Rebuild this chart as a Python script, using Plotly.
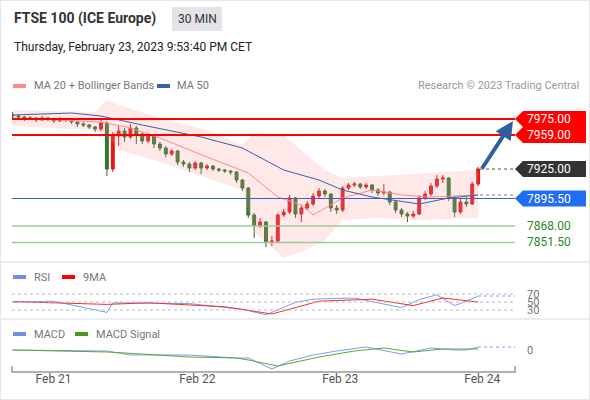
import plotly.graph_objects as go

W, H = 590, 400

# 30 min candles, closes (opens = previous close)
first_open = 7979
closes = [7978, 7977, 7975, 7976, 7974, 7976, 7975, 7973, 7975, 7974,
          7972, 7970, 7969, 7967, 7965, 7971, 7925, 7958, 7963, 7957,
          7966, 7960, 7953, 7958, 7950, 7946, 7940, 7943, 7932, 7930,
          7926, 7931, 7926, 7928, 7925, 7924, 7923, 7922, 7914, 7906,
          7879, 7868, 7872, 7852, 7853, 7879, 7882, 7896, 7880, 7886,
          7890, 7898, 7903, 7900, 7886, 7884, 7906, 7909, 7910, 7907,
          7909, 7904, 7901, 7902, 7892, 7884, 7880, 7878, 7880, 7896,
          7900, 7908, 7915, 7916, 7896, 7882, 7892, 7890, 7910, 7925]
highs = [7982, 7980, 7978, 7978, 7977, 7978, 7977, 7976, 7977, 7976,
         7975, 7973, 7972, 7970, 7968, 7974, 7973, 7962, 7968, 7966,
         7970, 7968, 7962, 7961, 7959, 7952, 7948, 7945, 7944, 7934,
         7932, 7933, 7932, 7930, 7929, 7926, 7925, 7924, 7923, 7915,
         7907, 7881, 7876, 7873, 7858, 7881, 7885, 7899, 7897, 7889,
         7893, 7901, 7906, 7905, 7901, 7889, 7908, 7911, 7912, 7911,
         7911, 7910, 7906, 7910, 7903, 7894, 7886, 7882, 7883, 7899,
         7903, 7911, 7919, 7919, 7917, 7898, 7895, 7897, 7912, 7927]
lows = [7976, 7975, 7973, 7974, 7972, 7973, 7973, 7971, 7972, 7972,
        7970, 7967, 7967, 7965, 7962, 7963, 7918, 7922, 7948, 7952,
        7955, 7950, 7950, 7951, 7946, 7943, 7937, 7938, 7929, 7927,
        7922, 7924, 7920, 7924, 7923, 7922, 7921, 7919, 7911, 7903,
        7876, 7856, 7866, 7847, 7848, 7851, 7877, 7880, 7876, 7872,
        7884, 7888, 7895, 7897, 7882, 7880, 7882, 7904, 7907, 7905,
        7905, 7901, 7898, 7899, 7889, 7881, 7877, 7872, 7876, 7879,
        7894, 7898, 7906, 7911, 7893, 7877, 7880, 7887, 7889, 7908]
opens = [first_open] + closes[:-1]
idx = list(range(len(closes)))

ma20_x = [0, 15, 20, 25, 33, 40, 45, 49, 51, 56, 61, 66, 71, 79]
ma20_y = [7976, 7972, 7966, 7956, 7937, 7921, 7897, 7889, 7879, 7896, 7904, 7899, 7897, 7899]
ma50_x = [0, 10, 15, 22, 32, 39, 46, 52, 56, 61, 69, 74, 79]
ma50_y = [7979, 7981, 7978, 7969, 7957, 7946, 7924, 7914, 7904, 7897, 7890, 7896, 7899]
bb_x = [0, 14, 16, 18, 25, 33, 39, 41, 46, 49, 53, 56, 62, 69, 79]
bb_up = [7984, 7982, 7994, 7989, 7976, 7964, 7949, 7961, 7959, 7944, 7924, 7916, 7918, 7920, 7924]
bb_lo = [7968, 7964, 7959, 7944, 7932, 7916, 7904, 7862, 7836, 7842, 7854, 7874, 7876, 7874, 7876]

rsi_x = [0, 7, 16, 17, 30, 39, 43, 48, 51, 58, 66, 69, 72, 75, 77, 79]
rsi_y = [50, 52, 24, 48, 46, 32, 18, 49, 57, 60, 36, 56, 68, 41, 52, 65]
rsi_ma_x = [0, 16, 23, 36, 44, 52, 61, 68, 73, 79]
rsi_ma_y = [51, 44, 48, 38, 20, 52, 57, 41, 60, 50]

macd_x = [0, 16, 20, 30, 38, 40, 44, 47, 51, 55, 60, 66, 71, 75, 77, 79]
macd_y = [0, -1, -5, -5, -8, -8, -19, -11, -5, -1, 3, -4, 2, 0, 0, 3]
sig_x = [0, 16, 22, 30, 38, 40, 45, 52, 58, 63, 68, 73, 79]
sig_y = [0, -2, -4, -7, -8, -10, -16, -7, -1, 2, -2, 1, 1]

levels = [7975.00, 7959.00, 7925.00, 7895.50, 7868.00, 7851.50]
date_ticks = [6.95, 31.35, 55.6, 79.7]
date_labels = ["Feb 21", "Feb 22", "Feb 23", "Feb 24"]

X0, X1 = 12, 515
xr = [-0.1, (X1 - X0) / 5.9]


def py(p):
    return 1 - p / H


fig = go.Figure()

fig.add_trace(go.Scatter(x=bb_x, y=bb_up, mode="lines", line=dict(width=0), hoverinfo="skip"))
fig.add_trace(go.Scatter(x=bb_x, y=bb_lo, mode="lines", line=dict(width=0), fill="tonexty",
                         fillcolor="rgba(255,150,150,0.22)", hoverinfo="skip"))
fig.add_trace(go.Scatter(x=ma20_x, y=ma20_y, mode="lines", line=dict(color="#ff8a8a", width=1)))
fig.add_trace(go.Scatter(x=ma50_x, y=ma50_y, mode="lines", line=dict(color="#3d5fa8", width=1)))
fig.add_trace(go.Candlestick(x=idx, open=opens, high=highs, low=lows, close=closes,
                             increasing=dict(line=dict(color="#d9141b", width=1), fillcolor="#e8161d"),
                             decreasing=dict(line=dict(color="#2d6b2d", width=1), fillcolor="#2f7d2f"),
                             whiskerwidth=0))

fig.add_trace(go.Scatter(x=rsi_x, y=rsi_y, mode="lines", line=dict(color="#7a9cf0", width=1),
                         xaxis="x2", yaxis="y2"))
fig.add_trace(go.Scatter(x=rsi_ma_x, y=rsi_ma_y, mode="lines", line=dict(color="#f03030", width=1),
                         xaxis="x2", yaxis="y2"))
fig.add_trace(go.Scatter(x=macd_x, y=macd_y, mode="lines", line=dict(color="#7a9cf0", width=1),
                         xaxis="x3", yaxis="y3"))
fig.add_trace(go.Scatter(x=sig_x, y=sig_y, mode="lines", line=dict(color="#5aa832", width=1),
                         xaxis="x3", yaxis="y3"))

ax_common = dict(range=xr, domain=[X0 / W, X1 / W], showgrid=False, zeroline=False, fixedrange=True)
fig.update_layout(
    width=W, height=H, margin=dict(l=0, r=0, t=0, b=0),
    paper_bgcolor="white", plot_bgcolor="rgba(0,0,0,0)", showlegend=False,
    font=dict(family="Roboto, Arial, sans-serif", color="#444"),
    xaxis=dict(**ax_common, showticklabels=False, rangeslider=dict(visible=False), anchor="y"),
    xaxis2=dict(**ax_common, showticklabels=False, anchor="y2"),
    xaxis3=dict(**ax_common, anchor="y3", tickvals=date_ticks, ticktext=date_labels,
                tickfont=dict(size=12, color="#555"), ticks=""),
    yaxis=dict(domain=[py(258), py(100)], range=[8094 - 258, 8094 - 100], visible=False),
    yaxis2=dict(domain=[py(315), py(288)], range=[17.5, 85], visible=False),
    yaxis3=dict(domain=[py(370), py(335)], range=[-20, 15], visible=False),
)

shapes = []
# panel borders
for yy in [262, 319]:
    shapes.append(dict(type="line", xref="paper", yref="paper", x0=0, x1=1, y0=py(yy), y1=py(yy),
                       line=dict(color="#e3e6ea", width=1.5)))
shapes.append(dict(type="rect", xref="paper", yref="paper", x0=0, x1=1, y0=0, y1=1,
                   line=dict(color="#e3e6ea", width=2)))
# axis baseline with end ticks
shapes.append(dict(type="path", xref="paper", yref="paper",
                   path=f"M {12/W} {py(366)} L {12/W} {py(372)} L {515/W} {py(372)} L {515/W} {py(366)}",
                   line=dict(color="#999", width=1.5)))
# price levels
lvl_style = [("#ff0000", 2), ("#ff0000", 2), (None, 0), ("#3a5fcd", 1), ("#9ccc9c", 1.5), ("#9ccc9c", 1.5)]
for lv, (col, wd) in zip(levels, lvl_style):
    if col:
        shapes.append(dict(type="line", xref="paper", yref="y", x0=X0 / W, x1=X1 / W, y0=lv, y1=lv,
                           line=dict(color=col, width=wd)))
# dotted extensions
shapes.append(dict(type="line", xref="paper", yref="y", x0=480 / W, x1=X1 / W, y0=closes[-1], y1=closes[-1],
                   line=dict(color="#555", width=1, dash="dot")))
shapes.append(dict(type="line", xref="paper", yref="y", x0=480 / W, x1=X1 / W, y0=ma50_y[-1], y1=ma50_y[-1],
                   line=dict(color="#6a7fb0", width=1, dash="dot")))
for v in [70, 50, 30]:
    shapes.append(dict(type="line", xref="paper", yref="y2", x0=X0 / W, x1=X1 / W, y0=v, y1=v,
                       line=dict(color="#bbb", width=1, dash="dot")))
shapes.append(dict(type="line", xref="paper", yref="y2", x0=478 / W, x1=X1 / W, y0=rsi_y[-1], y1=rsi_y[-1],
                   line=dict(color="#7a9cf0", width=1, dash="dot")))
shapes.append(dict(type="line", xref="paper", yref="y3", x0=478 / W, x1=X1 / W, y0=macd_y[-1], y1=macd_y[-1],
                   line=dict(color="#7a9cf0", width=1, dash="dot")))
# label boxes
box_cols = {7975.00: "#ff0000", 7959.00: "#ff0000", 7925.00: "#333333", 7895.50: "#1f6cf5"}
anns = []
for lv in levels:
    yc = 119 + (7975 - lv)
    if lv in box_cols:
        y0, y1 = yc - 8, yc + 8
        shapes.append(dict(type="path", xref="paper", yref="paper",
                           path=f"M {515/W} {py(yc)} L {523/W} {py(y0)} L {586/W} {py(y0)} "
                                f"L {586/W} {py(y1)} L {523/W} {py(y1)} Z",
                           fillcolor=box_cols[lv], line=dict(width=0)))
        anns.append(dict(x=525 / W, y=py(yc), text=f"{lv:.2f}", font=dict(size=12, color="white")))
    else:
        anns.append(dict(x=525 / W, y=py(yc), text=f"{lv:.2f}", font=dict(size=12, color="#2a8a2a")))
# header
shapes.append(dict(type="rect", xref="paper", yref="paper", x0=172 / W, x1=222 / W, y0=py(31), y1=py(7),
                   fillcolor="#e2e4e8", line=dict(width=0)))
anns += [
    dict(x=12 / W, y=py(18), text="<b>FTSE 100 (ICE Europe)</b>", font=dict(size=14, color="#333")),
    dict(x=197 / W, y=py(19), text="30 MIN", xanchor="center", font=dict(size=12, color="#333")),
    dict(x=12 / W, y=py(47), text="Thursday, February 23, 2023 9:53:40 PM CET", font=dict(size=12, color="#222")),
    dict(x=32 / W, y=py(86), text="MA 20 + Bollinger Bands", font=dict(size=11, color="#777")),
    dict(x=175 / W, y=py(86), text="MA 50", font=dict(size=11, color="#777")),
    dict(x=581 / W, y=py(86), text="Research © 2023 Trading Central", xanchor="right",
         font=dict(size=11, color="#999")),
    dict(x=32 / W, y=py(277), text="RSI", font=dict(size=11, color="#777")),
    dict(x=81 / W, y=py(277), text="9MA", font=dict(size=11, color="#777")),
    dict(x=32 / W, y=py(334), text="MACD", font=dict(size=11, color="#777")),
    dict(x=94 / W, y=py(334), text="MACD Signal", font=dict(size=11, color="#777")),
    dict(x=525 / W, y=py(294), text="70", font=dict(size=11, color="#777")),
    dict(x=525 / W, y=py(302), text="50", font=dict(size=11, color="#777")),
    dict(x=525 / W, y=py(310), text="30", font=dict(size=11, color="#777")),
    dict(x=525 / W, y=py(350), text="0", font=dict(size=11, color="#777")),
]
for a in anns:
    a.setdefault("xref", "paper")
    a.setdefault("yref", "paper")
    a.setdefault("showarrow", False)
    a.setdefault("xanchor", "left")
    a.setdefault("yanchor", "middle")
# legend swatches
for x0, yy, col in [(13, 86, "#ff8a8a"), (157, 86, "#3d5fa8"), (13, 277, "#6f8fe8"), (62, 277, "#ff0000"),
                    (13, 334, "#6f8fe8"), (75, 334, "#4a9a1a")]:
    shapes.append(dict(type="rect", xref="paper", yref="paper", x0=x0 / W, x1=(x0 + 13) / W,
                       y0=py(yy + 2), y1=py(yy - 2), fillcolor=col, line=dict(width=0)))
# forecast arrow
anns.append(dict(x=513 / W, y=py(121), xref="paper", yref="paper", ax=-32, ay=49, showarrow=True,
                 arrowhead=2, arrowsize=0.9, arrowwidth=4, arrowcolor="#2f5f9e", text=""))

fig.update_layout(shapes=shapes, annotations=anns)
fig.write_html("out.html", config={"displayModeBar": False},
               post_script="document.body.style.margin='0';")
